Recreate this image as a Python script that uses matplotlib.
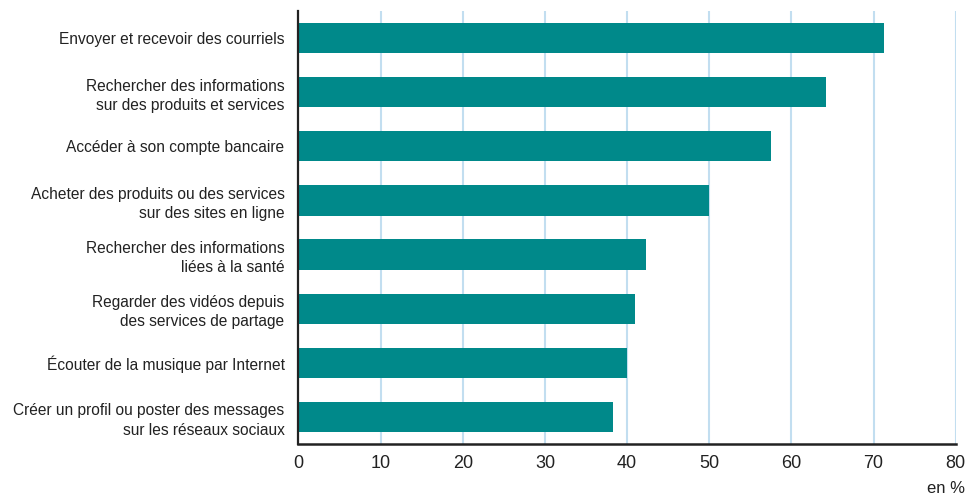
import matplotlib
matplotlib.use('Agg')
from matplotlib import pyplot as plt
from matplotlib import font_manager

names = {f.name for f in font_manager.fontManager.ttflist}
fam = 'Liberation Sans Narrow' if 'Liberation Sans Narrow' in names else 'Liberation Sans'
plt.rcParams['font.family'] = [fam, 'DejaVu Sans']

categories = [
    "Envoyer et recevoir des courriels",
    "Rechercher des informations\nsur des produits et services",
    "Accéder à son compte bancaire",
    "Acheter des produits ou des services\nsur des sites en ligne",
    "Rechercher des informations\nliées à la santé",
    "Regarder des vidéos depuis\ndes services de partage",
    "Écouter de la musique par Internet",
    "Créer un profil ou poster des messages\nsur les réseaux sociaux",
]
values = [71.3, 64.2, 57.5, 50.0, 42.3, 41.0, 40.0, 38.3]
xticks = [0, 10, 20, 30, 40, 50, 60, 70, 80]

fig = plt.figure(figsize=(9.69, 4.98), dpi=100)
ax = fig.add_axes([0.308, 0.1084, 0.6783, 0.8695])

pos = list(range(len(categories)))
ax.barh(pos, values, height=0.56, color='#00898a', zorder=3)

ax.set_ylim(len(categories) - 0.5, -0.5)
ax.set_xlim(0, 80)
ax.set_xticks(xticks)
ax.set_xticklabels([str(t) for t in xticks], fontsize=13, color='#222222')
ax.set_yticks(pos)
ax.set_yticklabels(categories, fontsize=11.2, color='#222222', ha='right',
                   multialignment='right', linespacing=1.35)
ax.tick_params(axis='both', length=0)
ax.tick_params(axis='y', pad=10)
ax.tick_params(axis='x', pad=8)

for t in xticks[1:]:
    ax.axvline(t, color='#c2def0', lw=1.5, zorder=1)

for s in ['top', 'right']:
    ax.spines[s].set_visible(False)
ax.spines['left'].set_linewidth(1.6)
ax.spines['bottom'].set_linewidth(1.8)
ax.spines['left'].set_color('#222222')
ax.spines['bottom'].set_color('#222222')
ax.spines['left'].set_zorder(4)

fig.text(0.996, 0.004, 'en %', ha='right', va='bottom', fontsize=12, color='#222222')

plt.savefig('out.png', dpi=100)
